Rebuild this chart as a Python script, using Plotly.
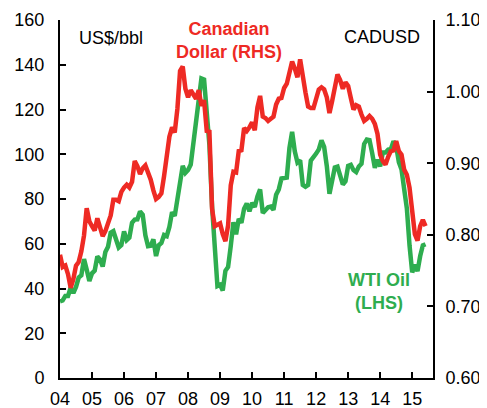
import plotly.graph_objects as go

# Monthly data, Jan 2004 - Jun 2015
years = list(range(2004, 2016))
wti_oil = [
    34.3, 34.7, 36.7, 36.7, 40.3, 38.0, 40.7, 44.9, 45.9, 53.1, 48.5, 43.3,   # 2004
    46.8, 48.0, 54.3, 53.0, 49.8, 56.3, 58.7, 64.9, 65.6, 62.4, 58.3, 59.4,   # 2005
    65.5, 61.6, 62.7, 69.4, 70.8, 70.9, 74.4, 73.0, 63.8, 58.9, 59.1, 62.0,   # 2006
    54.5, 59.3, 60.4, 63.9, 63.4, 67.5, 74.1, 72.4, 79.9, 85.8, 94.8, 91.7,   # 2007
    93.0, 95.4, 105.5, 112.6, 125.4, 133.9, 133.4, 116.7, 104.1, 76.6, 57.3, 41.1,  # 2008
    41.7, 39.1, 47.9, 49.6, 59.0, 69.6, 64.2, 71.1, 69.4, 75.7, 78.0, 74.5,   # 2009
    78.3, 76.4, 81.2, 84.3, 73.7, 75.3, 76.3, 76.6, 75.2, 81.9, 84.3, 89.2,   # 2010
    89.6, 89.6, 102.9, 110.0, 101.3, 96.3, 97.3, 86.3, 85.5, 86.3, 97.2, 98.6,  # 2011
    100.3, 102.2, 106.2, 103.3, 94.7, 82.3, 87.9, 94.1, 94.5, 89.5, 86.5, 87.9,  # 2012
    94.8, 95.3, 92.9, 92.0, 94.5, 95.8, 104.6, 106.6, 106.3, 100.5, 93.9, 97.6,  # 2013
    94.6, 100.8, 100.8, 102.1, 102.2, 105.8, 103.6, 96.5, 93.2, 84.4, 75.8, 59.3,  # 2014
    47.2, 50.6, 47.8, 54.5, 59.3, 59.8,                                          # 2015
]
cad_usd = [
    0.772, 0.755, 0.757, 0.745, 0.726, 0.738, 0.757, 0.762, 0.777, 0.799, 0.837, 0.819,  # 2004
    0.812, 0.806, 0.823, 0.811, 0.798, 0.805, 0.818, 0.827, 0.849, 0.849, 0.847, 0.860,  # 2005
    0.866, 0.870, 0.866, 0.874, 0.903, 0.896, 0.885, 0.893, 0.897, 0.887, 0.877, 0.862,  # 2006
    0.850, 0.853, 0.858, 0.882, 0.914, 0.937, 0.950, 0.943, 0.976, 1.029, 1.035, 1.004,  # 2007
    0.992, 1.002, 0.996, 0.990, 1.002, 0.980, 0.988, 0.945, 0.944, 0.836, 0.812, 0.814,  # 2008
    0.816, 0.801, 0.791, 0.813, 0.869, 0.888, 0.887, 0.917, 0.918, 0.949, 0.945, 0.950,  # 2009
    0.957, 0.946, 0.978, 0.994, 0.965, 0.963, 0.959, 0.962, 0.965, 0.982, 0.990, 0.991,  # 2010
    1.005, 1.011, 1.025, 1.042, 1.032, 1.020, 1.045, 1.017, 0.999, 0.979, 0.977, 0.977,  # 2011
    0.989, 1.003, 1.006, 1.003, 0.992, 0.970, 0.987, 1.008, 1.024, 1.016, 1.004, 1.013,  # 2012
    1.008, 0.991, 0.975, 0.981, 0.979, 0.968, 0.959, 0.962, 0.966, 0.962, 0.955, 0.941,  # 2013
    0.912, 0.903, 0.898, 0.909, 0.917, 0.918, 0.931, 0.917, 0.912, 0.891, 0.884, 0.866,  # 2014
    0.837, 0.801, 0.792, 0.812, 0.821, 0.812,                                              # 2015
]
year_tick_labels = ["04", "05", "06", "07", "08", "09", "10", "11", "12", "13", "14", "15"]
left_ticks = [0, 20, 40, 60, 80, 100, 120, 140, 160]
right_ticks = [0.60, 0.70, 0.80, 0.90, 1.00, 1.10]

x_time = [2004 + i / 12 for i in range(len(wti_oil))]

RED = "#EE2A24"
GREEN = "#2EAD4F"
FONT = "Liberation Sans, Arial, sans-serif"

fig = go.Figure()
fig.add_trace(go.Scatter(x=x_time, y=wti_oil, mode="lines", name="WTI Oil (LHS)",
                         line=dict(color=GREEN, width=4.5), yaxis="y"))
fig.add_trace(go.Scatter(x=x_time, y=cad_usd, mode="lines", name="Canadian Dollar (RHS)",
                         line=dict(color=RED, width=4.5), yaxis="y2"))

axis_common = dict(showline=True, linecolor="black", linewidth=2, ticks="inside",
                   tickcolor="black", ticklen=6, tickwidth=2, showgrid=False, zeroline=False,
                   automargin=False,
                   tickfont=dict(family=FONT, size=18, color="black"))

# the page body adds an 8px offset, so the figure is sized to fill the rest of the window
fig.update_layout(
    width=479, height=400,
    margin=dict(l=52, r=54, t=12, b=30),
    paper_bgcolor="white", plot_bgcolor="white",
    showlegend=False,
    font=dict(family=FONT, color="black"),
    xaxis=dict(range=[2004, 2015.65], tickvals=years, ticktext=year_tick_labels,
               ticklabelstandoff=3, **axis_common),
    yaxis=dict(range=[0, 160], tickvals=left_ticks, ticklabelstandoff=10, **axis_common),
    yaxis2=dict(range=[0.6, 1.1], tickvals=right_ticks, tickformat=".2f", overlaying="y",
                side="right", ticklabelstandoff=7, **axis_common),
)

fig.add_annotation(x=0.046, y=0.95, xref="paper", yref="paper", text="US$/bbl",
                   showarrow=False, xanchor="left", yanchor="middle",
                   font=dict(family=FONT, size=18, color="black"))
fig.add_annotation(x=0.862, y=0.953, xref="paper", yref="paper", text="CADUSD",
                   showarrow=False, xanchor="center", yanchor="middle",
                   font=dict(family=FONT, size=18, color="black"))
fig.add_annotation(x=0.452, y=0.943, xref="paper", yref="paper",
                   text="<b>Canadian<br>Dollar (RHS)</b>",
                   showarrow=False, xanchor="center", yanchor="middle",
                   font=dict(family=FONT, size=18, color=RED))
fig.add_annotation(x=0.855, y=0.241, xref="paper", yref="paper",
                   text="<b>WTI Oil<br>(LHS)</b>",
                   showarrow=False, xanchor="center", yanchor="middle",
                   font=dict(family=FONT, size=18, color=GREEN))

fig.write_html("out.html")
